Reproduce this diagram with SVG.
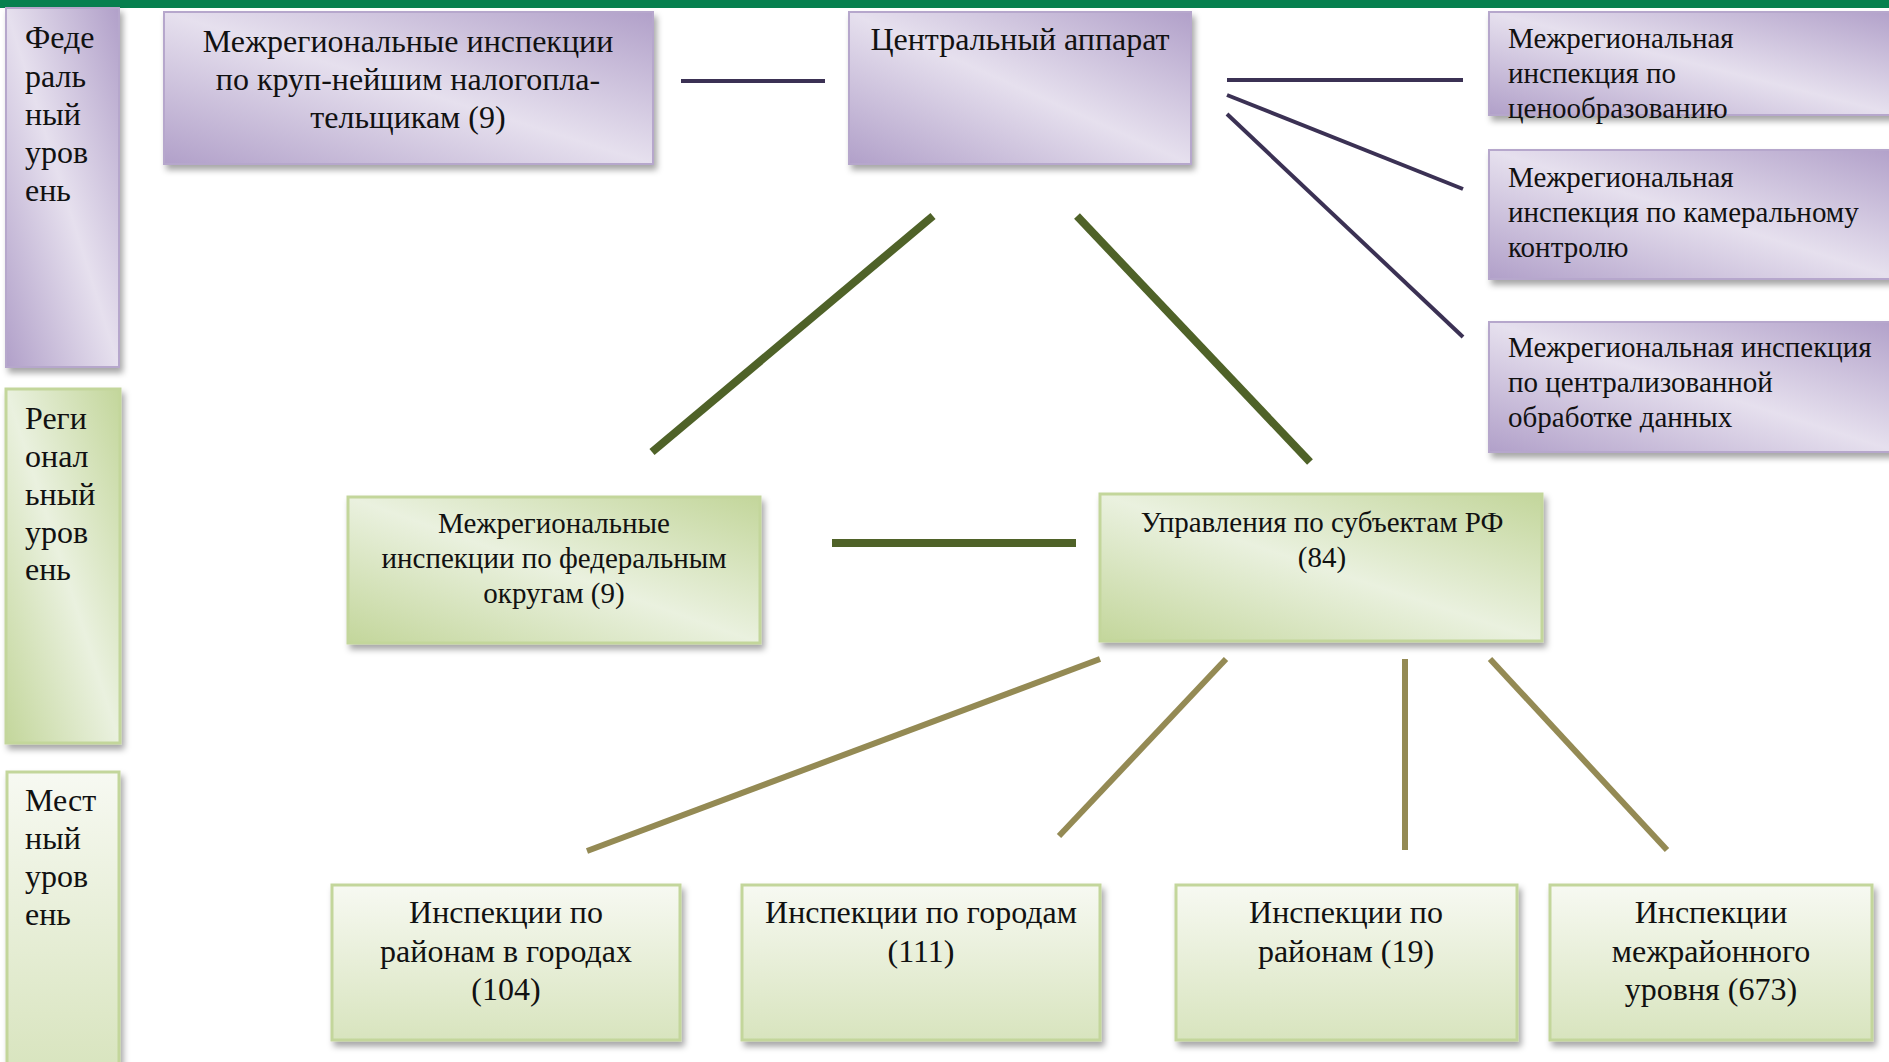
<svg xmlns="http://www.w3.org/2000/svg" width="1889" height="1062" viewBox="0 0 1889 1062">
<style>
text{font-family:"Liberation Serif","Times New Roman",serif;fill:#111;}
.t29{font-size:32px;}
.t26{font-size:29px;}
.c{text-anchor:middle;}
.pb{fill:url(#gp);stroke:#B6A7CC;stroke-width:2;filter:url(#sh);}
.gb{fill:url(#gg);stroke:#C3D69B;stroke-width:3;filter:url(#sh);}
.lb{fill:url(#gl);stroke:#C3D69B;stroke-width:3;filter:url(#sh);}
.lp{stroke:#3B3154;stroke-width:4;fill:none;}
.lg{stroke:#4F6228;stroke-width:8;fill:none;}
.lo{stroke:#948A54;stroke-width:6;fill:none;}
</style>
<defs>
<linearGradient id="gp" x1="0" y1="1" x2="1" y2="0">
<stop offset="0" stop-color="#B1A0C9"/>
<stop offset="0.5" stop-color="#E6E0EE"/>
<stop offset="1" stop-color="#B1A0C9"/>
</linearGradient>
<linearGradient id="gg" x1="0" y1="1" x2="1" y2="0">
<stop offset="0" stop-color="#C3D69B"/>
<stop offset="0.5" stop-color="#EAF1DF"/>
<stop offset="1" stop-color="#C3D69B"/>
</linearGradient>
<linearGradient id="gl" x1="0" y1="0" x2="0" y2="1">
<stop offset="0" stop-color="#F7F9F2"/>
<stop offset="1" stop-color="#D8E4BE"/>
</linearGradient>
<filter id="sh" x="-10%" y="-10%" width="125%" height="130%">
<feDropShadow dx="3" dy="5" stdDeviation="3" flood-color="#000" flood-opacity="0.35"/>
</filter>
</defs>
<rect x="0" y="0" width="1889" height="8" fill="#07804F"/>

<g id="connectors">
<line class="lp" x1="681" y1="81" x2="825" y2="81"/>
<line class="lp" x1="1227" y1="80" x2="1463" y2="80"/>
<line class="lp" x1="1227" y1="95" x2="1463" y2="189"/>
<line class="lp" x1="1227" y1="114" x2="1463" y2="337"/>
<line class="lg" x1="933" y1="216" x2="652" y2="452"/>
<line class="lg" x1="1077" y1="216" x2="1310" y2="462"/>
<line class="lg" x1="832" y1="543" x2="1076" y2="543"/>
<line class="lo" x1="1100" y1="659" x2="587" y2="851"/>
<line class="lo" x1="1226" y1="659" x2="1059" y2="836"/>
<line class="lo" x1="1405" y1="659" x2="1405" y2="850"/>
<line class="lo" x1="1490" y1="659" x2="1667" y2="850"/>
</g>

<g id="level-federal">
<rect class="pb" x="6" y="8" width="113" height="359"/>
<text class="t29" x="25"><tspan x="25" y="48">Феде</tspan><tspan x="25" y="87">раль</tspan><tspan x="25" y="125">ный</tspan><tspan x="25" y="163">уров</tspan><tspan x="25" y="201">ень</tspan></text>
</g>
<g id="level-regional">
<rect class="gb" x="6" y="389" width="114" height="354"/>
<text class="t29" x="25"><tspan x="25" y="429">Реги</tspan><tspan x="25" y="467">онал</tspan><tspan x="25" y="505">ьный</tspan><tspan x="25" y="543">уров</tspan><tspan x="25" y="580">ень</tspan></text>
</g>
<g id="level-local">
<rect class="lb" x="7" y="772" width="112" height="300"/>
<text class="t29" x="25"><tspan x="25" y="811">Мест</tspan><tspan x="25" y="849">ный</tspan><tspan x="25" y="887">уров</tspan><tspan x="25" y="925">ень</tspan></text>
</g>

<g id="node-largest">
<rect class="pb" x="164" y="12" width="489" height="152"/>
<text class="t29 c"><tspan x="408" y="52">Межрегиональные инспекции</tspan><tspan x="408" y="90">по круп-нейшим налогопла-</tspan><tspan x="408" y="128">тельщикам (9)</tspan></text>
</g>
<g id="node-central">
<rect class="pb" x="849" y="12" width="342" height="152"/>
<text class="t29 c" x="1020" y="50">Центральный аппарат</text>
</g>
<g id="node-pricing">
<rect class="pb" x="1489" y="12" width="410" height="103"/>
<text class="t26"><tspan x="1508" y="48">Межрегиональная</tspan><tspan x="1508" y="83">инспекция по</tspan><tspan x="1508" y="118">ценообразованию</tspan></text>
</g>
<g id="node-cameral">
<rect class="pb" x="1489" y="150" width="410" height="129"/>
<text class="t26"><tspan x="1508" y="187">Межрегиональная</tspan><tspan x="1508" y="222">инспекция по камеральному</tspan><tspan x="1508" y="257">контролю</tspan></text>
</g>
<g id="node-data">
<rect class="pb" x="1489" y="322" width="410" height="130"/>
<text class="t26"><tspan x="1508" y="357">Межрегиональная инспекция</tspan><tspan x="1508" y="392">по централизованной</tspan><tspan x="1508" y="427">обработке данных</tspan></text>
</g>
<g id="node-districts">
<rect class="gb" x="348" y="497" width="412" height="146"/>
<text class="t26 c"><tspan x="554" y="533">Межрегиональные</tspan><tspan x="554" y="568">инспекции по федеральным</tspan><tspan x="554" y="603">округам (9)</tspan></text>
</g>
<g id="node-subjects">
<rect class="gb" x="1100" y="494" width="442" height="147"/>
<text class="t26 c"><tspan x="1322" y="532">Управления по субъектам РФ</tspan><tspan x="1322" y="567">(84)</tspan></text>
</g>
<g id="node-city-districts">
<rect class="lb" x="332" y="885" width="348" height="155"/>
<text class="t29 c"><tspan x="506" y="923">Инспекции по</tspan><tspan x="506" y="962">районам в городах</tspan><tspan x="506" y="1000">(104)</tspan></text>
</g>
<g id="node-cities">
<rect class="lb" x="742" y="885" width="358" height="155"/>
<text class="t29 c"><tspan x="921" y="923">Инспекции по городам</tspan><tspan x="921" y="962">(111)</tspan></text>
</g>
<g id="node-districts-19">
<rect class="lb" x="1176" y="885" width="341" height="155"/>
<text class="t29 c"><tspan x="1346" y="923">Инспекции по</tspan><tspan x="1346" y="962">районам (19)</tspan></text>
</g>
<g id="node-interdistrict">
<rect class="lb" x="1550" y="885" width="322" height="155"/>
<text class="t29 c"><tspan x="1711" y="923">Инспекции</tspan><tspan x="1711" y="962">межрайонного</tspan><tspan x="1711" y="1000">уровня (673)</tspan></text>
</g>
</svg>
